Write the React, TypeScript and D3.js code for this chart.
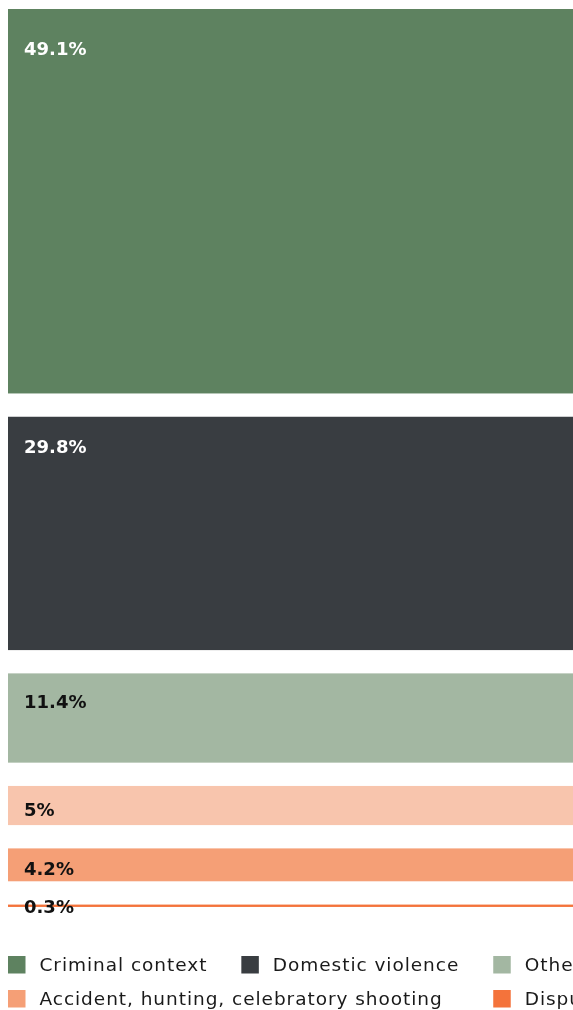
import React from "react";
import * as d3 from "d3";

const categories = [
  "Criminal context",
  "Domestic violence",
  "Other",
  "Unknown",
  "Accident, hunting, celebratory shooting",
  "Dispute",
];
const values = [49.1, 29.8, 11.4, 5, 4.2, 0.3];
const labels = ["49.1%", "29.8%", "11.4%", "5%", "4.2%", "0.3%"];
const colors = ["#5e8260", "#393d41", "#a3b7a2", "#f8c5ad", "#f59f76", "#f4733b"];
const labelColors = ["#ffffff", "#ffffff", "#111111", "#111111", "#111111", "#111111"];

const W = 573;
const H = 1010;
const M = 8;
const FONT = "'DejaVu Sans', sans-serif";
const GAP = 23.3;
const BARS_TOTAL = 783;

function measure(text: string, font: string, spacing: number) {
  const c = document.createElement("canvas").getContext("2d")!;
  c.font = font;
  return c.measureText(text).width + spacing * text.length;
}

export default function App() {
  const h = d3.scaleLinear().domain([0, 100]).range([0, BARS_TOTAL]);
  // label centre offset from bar top, as a function of bar height
  const labelOffset = d3
    .scaleLinear()
    .domain([0, 40, 90, 240, 400])
    .range([1, 24, 27.7, 29.5, 41])
    .clamp(true);
  let acc = M + 1;
  const bars = values.map((v, i) => {
    const y = acc;
    const hh = h(v);
    acc += hh + GAP;
    return { y, h: hh, v, i };
  });

  const legendSize = 18.5;
  const legendSpacing = 0.95;
  const legendFont = `${legendSize}px ${FONT}`;
  const sq = 17.5;
  const textGap = 14;
  const itemGap = 34;
  const firstRowCount = 4;
  const cols: number[] = [];
  let x = M;
  const items: { x: number; row: number; i: number }[] = [];
  categories.forEach((c, i) => {
    const w = sq + textGap + measure(c, legendFont, legendSpacing);
    if (i < firstRowCount) {
      cols.push(x);
      items.push({ x, row: 0, i });
      x += w + itemGap;
    }
  });
  let rx = M;
  let first = true;
  categories.slice(firstRowCount).forEach((c, k) => {
    const i = k + firstRowCount;
    const w = sq + textGap + measure(c, legendFont, legendSpacing);
    const pos = first ? M : cols.find((cx) => cx >= rx) ?? rx;
    items.push({ x: pos, row: 1, i });
    rx = pos + w + itemGap;
    first = false;
  });

  const legendTop = 956;
  const rowStep = 34;

  return (
    <svg
      width={W}
      height={H}
      style={{ position: "fixed", left: 0, top: 0, display: "block", fontFamily: FONT, overflow: "hidden" }}
    >
      {bars.map((b) => (
        <g key={b.i}>
          <rect x={M} y={b.y} width={W - M} height={b.h} fill={colors[b.i]} />
          <text
            x={M + 16}
            y={b.y + labelOffset(b.h)}
            dominantBaseline="central"
            fontSize={18}
            fontWeight={700}
            fill={labelColors[b.i]}
          >
            {labels[b.i]}
          </text>
        </g>
      ))}
      {items.map((it) => (
        <g key={it.i} transform={`translate(${it.x},${legendTop + it.row * rowStep})`}>
          <rect width={sq} height={sq} fill={colors[it.i]} />
          <text
            x={sq + textGap}
            y={sq / 2}
            dominantBaseline="central"
            fontSize={legendSize}
            letterSpacing={legendSpacing}
            fill="#1a1a1a"
          >
            {categories[it.i]}
          </text>
        </g>
      ))}
    </svg>
  );
}
